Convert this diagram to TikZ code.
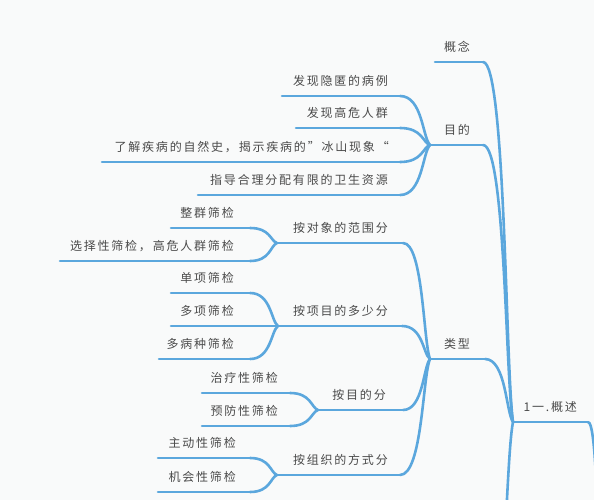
\documentclass[tikz,border=0pt]{standalone}
\usepackage{fontspec}
\newfontfamily\cjk[LetterSpace=15]{Noto Sans CJK SC}
\usetikzlibrary{calc}
\definecolor{br}{HTML}{5BA7DD}
\definecolor{tx}{HTML}{4A4A4A}
\definecolor{bg}{HTML}{F9FAFA}
\tikzset{
  lbl/.style={anchor=east, inner sep=0pt, text=tx, font=\cjk\fontsize{12}{14}\selectfont},
  ln/.style={draw=br, line width=2.6pt, line cap=round},
}
\newcommand\link[2]{%
  \draw[ln] let \p1=(#1), \p2=(#2) in (\p1) .. controls ({\x1+0.75*(\x2-\x1)},\y1) and ({\x2-0.25*(\x2-\x1)},{\y2-0.15*(\y2-\y1)}) .. (\p2);}
\newcommand\topic[6]{% name, left x, right x, line y, text right x, text
  \coordinate (#1-l) at (#2,#4);
  \coordinate (#1-r) at (#3,#4);
  \node[lbl] (#1-t) at (#5,#4-15) {#6};
  \draw[ln] (#1-l) -- (#1-r);}
\begin{document}
\begin{tikzpicture}[x=1pt,y=-1pt]
\path[use as bounding box, fill=bg] (0,0) rectangle (594,500);
\clip (0,0) rectangle (594,500);
% root
\topic{root}{513}{588}{422}{577}{1一.概述}
\coordinate (root-up) at (600,560);
\coordinate (root-dn) at (480,700);
\link{root-r}{root-up}
\link{root-dn}{root-l}
% level 1
\topic{gn}{435}{483}{62}{470}{概念}
\topic{md}{430}{483}{145}{470}{目的}
\topic{lx}{430}{485}{359}{470}{类型}
\link{gn-r}{root-l}
\link{md-r}{root-l}
\link{lx-r}{root-l}
% 目的 children
\topic{m1}{282}{400}{96}{388}{发现隐匿的病例}
\topic{m2}{296}{400}{128}{388}{发现高危人群}
\topic{m3}{102}{400}{162}{389}{了解疾病的自然史，揭示疾病的”冰山现象“}
\topic{m4}{198}{400}{195}{388}{指导合理分配有限的卫生资源}
\foreach \c in {m1,m2,m3,m4} {\link{\c-r}{md-l}}
% 类型 children
\topic{a}{277}{403}{243}{388}{按对象的范围分}
\topic{b}{278}{402}{326}{388}{按项目的多少分}
\topic{c}{318}{403}{410}{386}{按目的分}
\topic{d}{277}{400}{475}{388}{按组织的方式分}
\foreach \c in {a,b,c,d} {\link{\c-r}{lx-l}}
% grandchildren
\topic{a1}{171}{250}{228}{234}{整群筛检}
\topic{a2}{60}{250}{261}{234}{选择性筛检，高危人群筛检}
\link{a1-r}{a-l}
\link{a2-r}{a-l}
\topic{b1}{171}{250}{293}{234}{单项筛检}
\topic{b2}{171}{250}{326}{234}{多项筛检}
\topic{b3}{159}{250}{359}{234}{多病种筛检}
\link{b1-r}{b-l}
\draw[ln] (b2-r) -- (b-l);
\link{b3-r}{b-l}
\topic{c1}{202}{290}{393}{278}{治疗性筛检}
\topic{c2}{202}{290}{426}{278}{预防性筛检}
\link{c1-r}{c-l}
\link{c2-r}{c-l}
\topic{d1}{158}{250}{458}{236}{主动性筛检}
\topic{d2}{158}{250}{492}{236}{机会性筛检}
\link{d1-r}{d-l}
\link{d2-r}{d-l}
\end{tikzpicture}
\end{document}
